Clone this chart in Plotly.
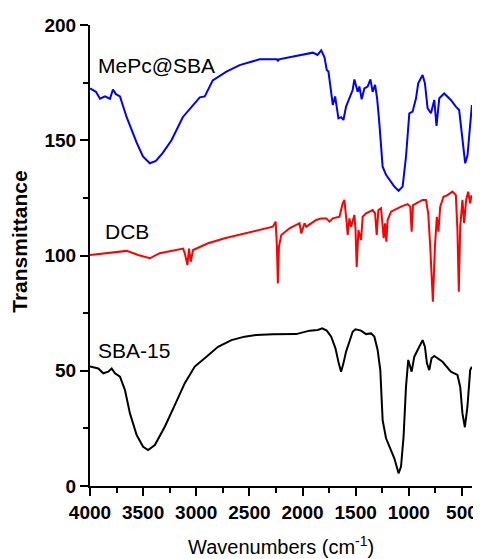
import plotly.graph_objects as go

# MePc@SBA (blue)
mepc_wn = [4000, 3944, 3906, 3859, 3812, 3784, 3756, 3718, 3655, 3561, 3502, 3437, 3380, 3315, 3233, 3127,
           2967, 2920, 2845, 2716, 2592, 2404, 2240, 2230, 2222, 2028, 1903, 1859, 1824, 1793, 1772, 1756,
           1740, 1715, 1693, 1678, 1662, 1637, 1615, 1590, 1559, 1528, 1512, 1481, 1465, 1443, 1418, 1387,
           1361, 1340, 1317, 1298, 1277, 1246, 1214, 1167, 1136, 1096, 1058, 1026, 995, 964, 932, 911, 870,
           848, 823, 791, 760, 739, 713, 667, 604, 557, 526, 501, 469, 447, 422, 406]
mepc_t = [172.5, 171, 168, 169, 168, 172, 170, 169, 160, 149, 143, 140, 141, 144.5, 150, 160,
          168.6, 169, 176, 179.8, 182.6, 185.1, 185.1, 184.3, 185.1, 187, 188, 187, 189, 186, 180.5, 179.8,
          174.7, 165.3, 169, 165, 159.5, 160, 158.8, 164.6, 168.2, 171.8, 176.4, 171, 173.3, 167.8, 172.5, 173.3,
          176.4, 171, 174, 168.2, 157.4, 138.5, 135, 132, 129.9, 128.1, 129.9, 142.9, 161.7, 162.4, 168.2, 174.7, 178.3,
          174.7, 163.9, 161.7, 167.5, 156.2, 168.2, 170.3, 167.5, 164.6, 163.1, 153, 140, 143.6, 157.4, 165.3]

# DCB (red)
dcb_wn = [4000, 3859, 3655, 3546, 3437, 3343, 3202, 3124, 3108, 3083, 3068, 3052, 3030, 2889, 2732, 2545,
          2435, 2279, 2253, 2241, 2232, 2222, 2200, 2122, 2028, 2012, 1981, 1965, 1871, 1824, 1777, 1746,
          1715, 1668, 1652, 1637, 1622, 1606, 1596, 1584, 1575, 1559, 1543, 1512, 1502, 1490, 1474, 1449,
          1434, 1402, 1340, 1317, 1302, 1286, 1261, 1236, 1223, 1211, 1199, 1167, 1073, 1011, 986, 973, 960,
          932, 870, 838, 817, 798, 773, 754, 736, 721, 704, 673, 636, 589, 557, 542, 529, 516, 495, 479,
          460, 441, 422, 410]
dcb_t = [100.2, 101, 102, 100.2, 98.8, 101, 102.4, 103, 101, 95.9, 103, 97.3, 102.4, 105.3, 107.5, 109.6,
         110.8, 112.5, 114.7, 103.8, 87.9, 103.8, 108.9, 111.8, 114, 109.6, 114, 112.5, 115.4, 116.1, 116.1, 114.7,
         116.1, 116.8, 116.8, 119.7, 122.6, 124.1, 117.6, 114, 108.9, 116.1, 112.5, 117.6, 112, 95, 111, 106.7,
         116.8, 118.3, 119.7, 118.3, 108.9, 119.7, 120.5, 107.5, 114, 106, 115.4, 119, 121.2, 122.3, 121.2, 110.3, 121.9,
         122.6, 124.1, 124.1, 118.3, 103.8, 80, 103.8, 116.8, 110.3, 121.2, 125.5, 126.2, 127.7, 126.2, 111, 84.3, 112.5, 124.1, 114,
         124.1, 127.7, 122.6, 126.2]

# SBA-15 (black)
sba_wn = [4000, 3922, 3875, 3828, 3796, 3765, 3718, 3671, 3624, 3561, 3500, 3453, 3390, 3296, 3202, 3108,
          3014, 2936, 2904, 2795, 2669, 2545, 2435, 2279, 2059, 1934, 1856, 1815, 1772, 1730, 1690, 1659,
          1637, 1615, 1590, 1559, 1528, 1502, 1449, 1402, 1355, 1324, 1293, 1268, 1246, 1214, 1167, 1136,
          1096, 1073, 1049, 1026, 1005, 973, 948, 917, 870, 848, 829, 807, 786, 760, 682, 604, 542, 516,
          495, 472, 448, 422, 406]
sba_t = [51.8, 51, 48.9, 49.6, 51, 48.9, 47.4, 41.6, 31.5, 22.1, 17, 15.6, 17.8, 25.7, 35.1, 44.6,
         51.8, 54.7, 56.1, 60.4, 63.3, 64.8, 65.5, 65.8, 65.9, 67.4, 67.7, 68.4, 67.4, 64.8, 59.7, 53.2,
         49.6, 53.2, 58.3, 62.6, 66.9, 68, 67.4, 65.9, 66.2, 64.8, 59, 50.3, 28.6, 20.7, 15.6, 12,
         5.5, 8.4, 21.4, 43.1, 54.7, 49.6, 56.1, 59, 63.3, 60.4, 53.2, 50.3, 55.4, 56.4, 53.9, 49.6, 48.2, 43.1,
         31.5, 25.5, 34.4, 50.3, 51.8]

series_names = ["MePc@SBA", "DCB", "SBA-15"]
series_colors = ["#0000ff", "#ff0000", "#000000"]
x_ticks = [4000, 3500, 3000, 2500, 2000, 1500, 1000, 500]
y_ticks = [0, 50, 100, 150, 200]

font_family = "Liberation Sans, Arial"

fig = go.Figure()
for wn, t, name, col in [(mepc_wn, mepc_t, series_names[0], series_colors[0]),
                         (dcb_wn, dcb_t, series_names[1], series_colors[1]),
                         (sba_wn, sba_t, series_names[2], series_colors[2])]:
    fig.add_trace(go.Scatter(x=wn, y=t, mode="lines", name=name,
                             line=dict(color=col, width=2), showlegend=False))

# labels for curves
label_pos = [(3944, 182.6), (3878, 110.2), (3944, 59)]
for (lx, ly), name in zip(label_pos, series_names):
    fig.add_annotation(x=lx, y=ly, text=name, showarrow=False, xanchor="left", yanchor="middle",
                       font=dict(family=font_family, size=21, color="black"))

# axis titles
fig.add_annotation(xref="paper", yref="paper", x=-0.183, y=0.53, text="<b>Transmittance</b>",
                   textangle=-90, showarrow=False, xanchor="center", yanchor="middle",
                   font=dict(family=font_family, size=21, color="black"))
fig.add_annotation(xref="paper", yref="paper", x=0.5, y=-0.128, text="Wavenumbers (cm<sup>-1</sup>)",
                   showarrow=False, xanchor="center", yanchor="middle",
                   font=dict(family=font_family, size=20, color="black"))

fig.update_layout(
    width=481, height=559,
    margin=dict(l=82, r=17, t=17, b=81),
    plot_bgcolor="white", paper_bgcolor="white",
    font=dict(family=font_family, color="black"),
    xaxis=dict(range=[4000, 405], tickvals=x_ticks, ticktext=["<b>%d</b>" % v for v in x_ticks],
               ticks="outside", ticklen=8, tickwidth=2, tickcolor="black",
               minor=dict(dtick=250, tick0=0, ticks="outside", ticklen=5, tickwidth=2, tickcolor="black"),
               showline=True, linecolor="black", linewidth=2, showgrid=False, zeroline=False,
               tickfont=dict(size=19, family=font_family), automargin=False),
    yaxis=dict(range=[0, 200], tickvals=y_ticks, ticktext=["<b>%d</b>" % v for v in y_ticks],
               ticks="outside", ticklen=8, tickwidth=2, tickcolor="black",
               minor=dict(dtick=25, tick0=0, ticks="outside", ticklen=5, tickwidth=2, tickcolor="black"),
               showline=True, linecolor="black", linewidth=2, showgrid=False, zeroline=False,
               tickfont=dict(size=19, family=font_family), automargin=False),
)

fig.write_html("out.html")
